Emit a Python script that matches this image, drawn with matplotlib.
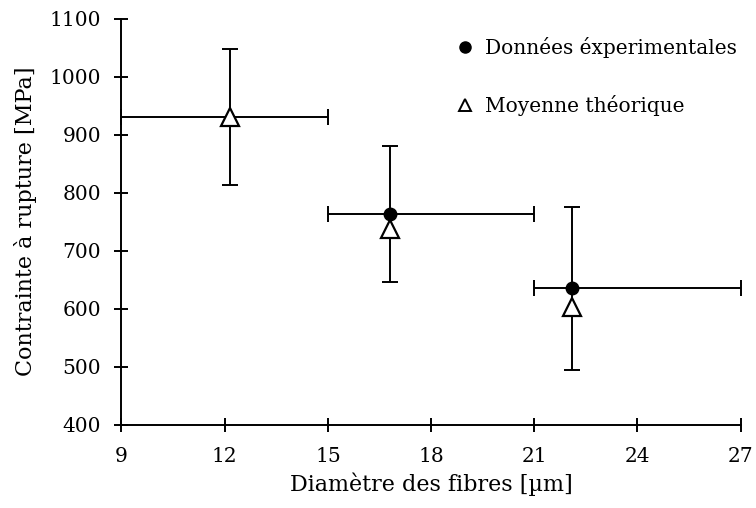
import matplotlib.pyplot as plt
from matplotlib.lines import Line2D

# diamètres moyens et plages de diamètres des fibres [µm]
diam = [12.15, 16.8, 22.1]
d_min = [9, 15, 21]
d_max = [15, 21, 27]

# contraintes à rupture [MPa]
exp_diam = [16.8, 22.1]
exp_stress = [763, 635]
bar_center = [931, 763, 635]
bar_err = [117, 117, 140]
theo_stress = [931, 737, 603]

plt.rcParams['font.family'] = ['DejaVu Serif']
plt.rcParams['font.size'] = 14.5

fig = plt.figure(figsize=(7.56, 5.08), dpi=100)
ax = fig.add_axes([0.1607, 0.164, 0.819, 0.799])

xerr = [[d - lo for d, lo in zip(diam, d_min)], [hi - d for d, hi in zip(diam, d_max)]]
ax.errorbar(diam, bar_center, xerr=xerr, yerr=bar_err, fmt='none', ecolor='black',
            elinewidth=1.4, capsize=6, capthick=1.4, clip_on=False, zorder=2)
ax.plot(exp_diam, exp_stress, 'o', color='black', markersize=9, zorder=3, clip_on=False)
ax.plot(diam, theo_stress, '^', markerfacecolor='white', markeredgecolor='black',
        markeredgewidth=1.6, markersize=12.5, zorder=4, clip_on=False)

ax.set_xlim(9, 27)
ax.set_ylim(400, 1100)
ax.set_xticks(range(9, 28, 3))
ax.set_yticks(range(400, 1101, 100))
ax.spines['top'].set_visible(False)
ax.spines['right'].set_visible(False)
for s in ['left', 'bottom']:
    ax.spines[s].set_linewidth(1.4)
ax.tick_params(direction='inout', length=9.5, width=1.4, labelsize=14.5)
ax.tick_params(axis='y', pad=10)
ax.tick_params(axis='x', pad=11)

ax.set_xlabel('Diamètre des fibres [µm]', fontsize=16, labelpad=5)
ax.set_ylabel('Contrainte à rupture [MPa]', fontsize=16, labelpad=9)

handles = [
    Line2D([], [], marker='o', linestyle='none', color='black', markersize=8),
    Line2D([], [], marker='^', linestyle='none', markerfacecolor='white',
           markeredgecolor='black', markeredgewidth=1.4, markersize=8),
]
ax.legend(handles, ['Données éxperimentales', 'Moyenne théorique'], loc='upper right',
          bbox_to_anchor=(737 / 756, 1 - 37 / 508), bbox_transform=fig.transFigure,
          borderaxespad=0, borderpad=0, frameon=False, handlelength=0.8,
          handletextpad=0.6, labelspacing=1.85, fontsize=14.5)

fig.savefig('out.png', dpi=100)
